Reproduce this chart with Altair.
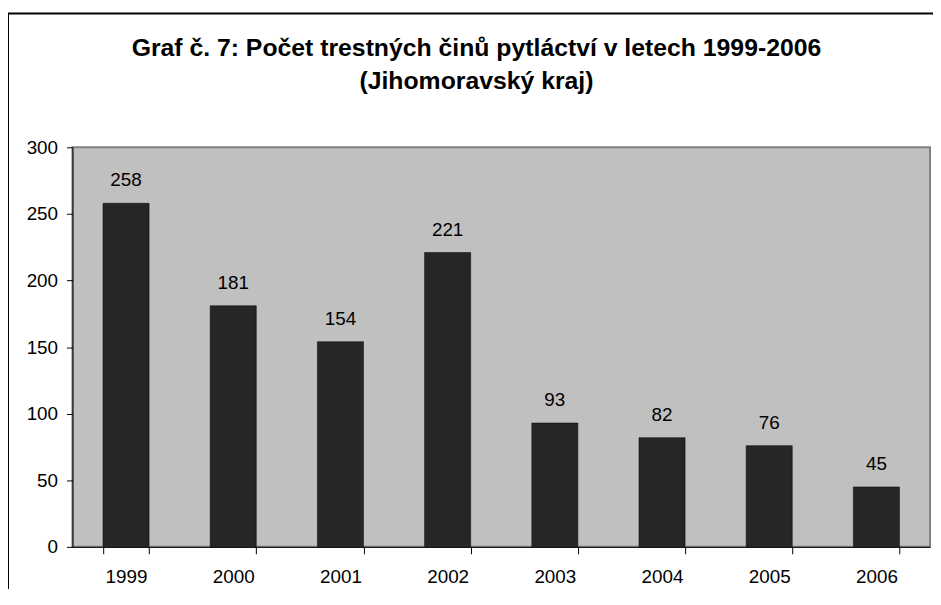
import altair as alt
import pandas as pd

years = ["1999", "2000", "2001", "2002", "2003", "2004", "2005", "2006"]
counts = [258, 181, 154, 221, 93, 82, 76, 45]
y_ticks = [0, 50, 100, 150, 200, 250, 300]
title_lines = ["Graf č. 7: Počet trestných činů pytláctví v letech 1999-2006", "(Jihomoravský kraj)"]

df = pd.DataFrame({"rok": years, "pocet": counts})
frame_df = pd.DataFrame({"k": [0]})

FONT = "Liberation Sans"
FS = 19

x_enc = alt.X(
    "rok:N",
    sort=years,
    scale=alt.Scale(paddingInner=0.57, paddingOuter=0.285),
    axis=alt.Axis(
        title=None, labelAngle=0, tickBand="extent", tickSize=7, labelPadding=14,
        labelFontSize=FS, labelFont=FONT, labelColor="black",
        domainColor="black", tickColor="black", domainWidth=1, tickWidth=1,
    ),
)
y_enc = alt.Y(
    "pocet:Q",
    scale=alt.Scale(domain=[0, 300]),
    axis=alt.Axis(
        title=None, values=y_ticks, grid=False, tickSize=6, labelPadding=9,
        labelFontSize=FS, labelFont=FONT, labelColor="black",
        domainColor="black", tickColor="black", domainWidth=1, tickWidth=1,
    ),
)

bars = alt.Chart(df).mark_bar(color="#262626", stroke="#000000", strokeWidth=0.5).encode(x=x_enc, y=y_enc)
labels = alt.Chart(df).mark_text(
    baseline="bottom", dy=-13, fontSize=FS, font=FONT, color="black"
).encode(x=alt.X("rok:N", sort=years), y="pocet:Q", text="pocet:Q")

frame_top = alt.Chart(frame_df).mark_rule(color="black", strokeWidth=2).encode(
    x=alt.value(-65), x2=alt.value(900), y=alt.value(-135)
)
frame_left = alt.Chart(frame_df).mark_rule(color="black", strokeWidth=2).encode(
    x=alt.value(-65), y=alt.value(-135), y2=alt.value(600)
)

chart = alt.layer(frame_top, frame_left, bars, labels).properties(
    width=865,
    height=403,
    padding={"left": 65, "top": 138, "right": 3, "bottom": 40},
    autosize=alt.AutoSizeParams(type="none"),
    background="white",
    title=alt.TitleParams(
        text=title_lines, font=FONT, fontSize=25, fontWeight="bold", color="black",
        anchor="middle", frame="group", dx=-25, offset=-107, lineHeight=33, baseline="bottom",
    ),
).configure_view(
    fill="#c0c0c0", stroke="#808080", strokeWidth=2
)

chart.save("out.html", embed_options={"renderer": "svg", "actions": False})
